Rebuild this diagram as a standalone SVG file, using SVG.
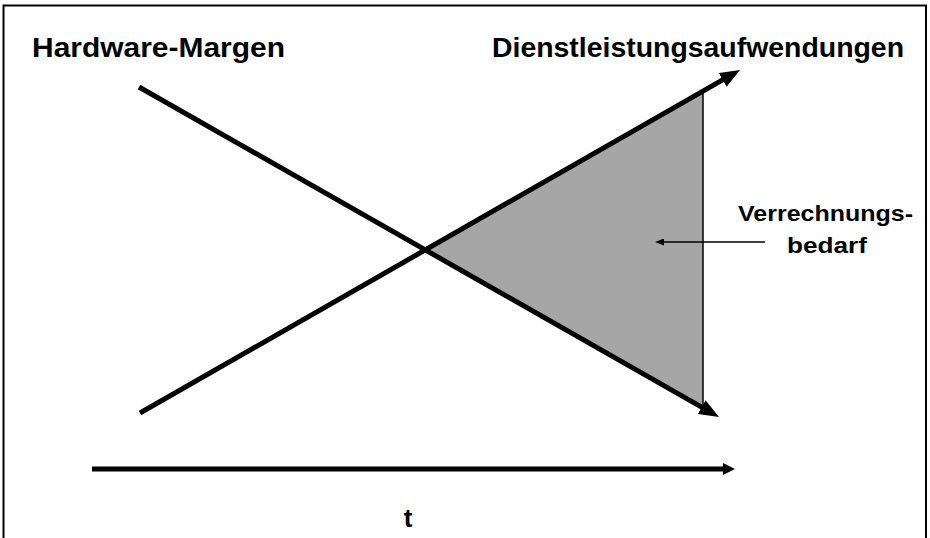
<svg xmlns="http://www.w3.org/2000/svg" width="930" height="538" viewBox="0 0 930 538">
<style>
.lbl{font-family:"Liberation Sans","Lato",sans-serif;font-weight:bold;fill:#000}
.big{font-size:28px}
.mid{font-size:22px}
.tt{font-size:26px}
.main{stroke:#000;stroke-width:5;fill:none}
.thin{stroke:#000;stroke-width:1.5;fill:none}
</style>
<defs>
<marker id="headBig" viewBox="0 0 20 16" refX="1" refY="8" markerWidth="20" markerHeight="16" markerUnits="userSpaceOnUse" orient="auto">
<path d="M0,0 L20,8 L0,16 z" fill="#000"/>
</marker>
<marker id="headAxis" viewBox="0 0 12 12" refX="1" refY="6" markerWidth="12" markerHeight="12" markerUnits="userSpaceOnUse" orient="auto">
<path d="M0,0 L12,6 L0,12 z" fill="#000"/>
</marker>
<marker id="headSmall" viewBox="0 0 9 7" refX="1" refY="3.5" markerWidth="9" markerHeight="7" markerUnits="userSpaceOnUse" orient="auto">
<path d="M0,0 L9,3.5 L0,7 z" fill="#000"/>
</marker>
</defs>
<rect x="0" y="0" width="930" height="538" fill="#fff"/>
<path d="M3.5,545 V5.5 H926 V545" fill="none" stroke="#000" stroke-width="2"/>
<g id="area">
<polygon points="425,250 703,91 703,408" fill="#a6a6a6"/>
<line x1="703" y1="90" x2="703" y2="410" class="thin"/>
</g>
<g id="connectors">
<line id="hardware-line" x1="139" y1="87" x2="702.5" y2="407.6" class="main" marker-end="url(#headBig)"/>
<line id="dienst-line" x1="140" y1="413" x2="723.5" y2="79.4" class="main" marker-end="url(#headBig)"/>
<line id="time-axis" x1="92" y1="469" x2="724" y2="469" class="main" marker-end="url(#headAxis)"/>
<line id="verr-arrow" x1="765" y1="242" x2="663" y2="242" class="thin" marker-end="url(#headSmall)"/>
</g>
<g id="hardware-label">
<text class="lbl big" x="32" y="57" textLength="253" lengthAdjust="spacingAndGlyphs">Hardware-Margen</text>
</g>
<g id="dienst-label">
<text class="lbl big" x="492" y="57" textLength="412" lengthAdjust="spacingAndGlyphs">Dienstleistungsaufwendungen</text>
</g>
<g id="verrechnung-label">
<text class="lbl mid" x="738" y="221" textLength="175" lengthAdjust="spacingAndGlyphs">Verrechnungs-</text>
<text class="lbl mid" x="787" y="253" textLength="80" lengthAdjust="spacingAndGlyphs">bedarf</text>
</g>
<g id="t-label">
<text class="lbl tt" x="408" y="527" text-anchor="middle">t</text>
</g>
</svg>
